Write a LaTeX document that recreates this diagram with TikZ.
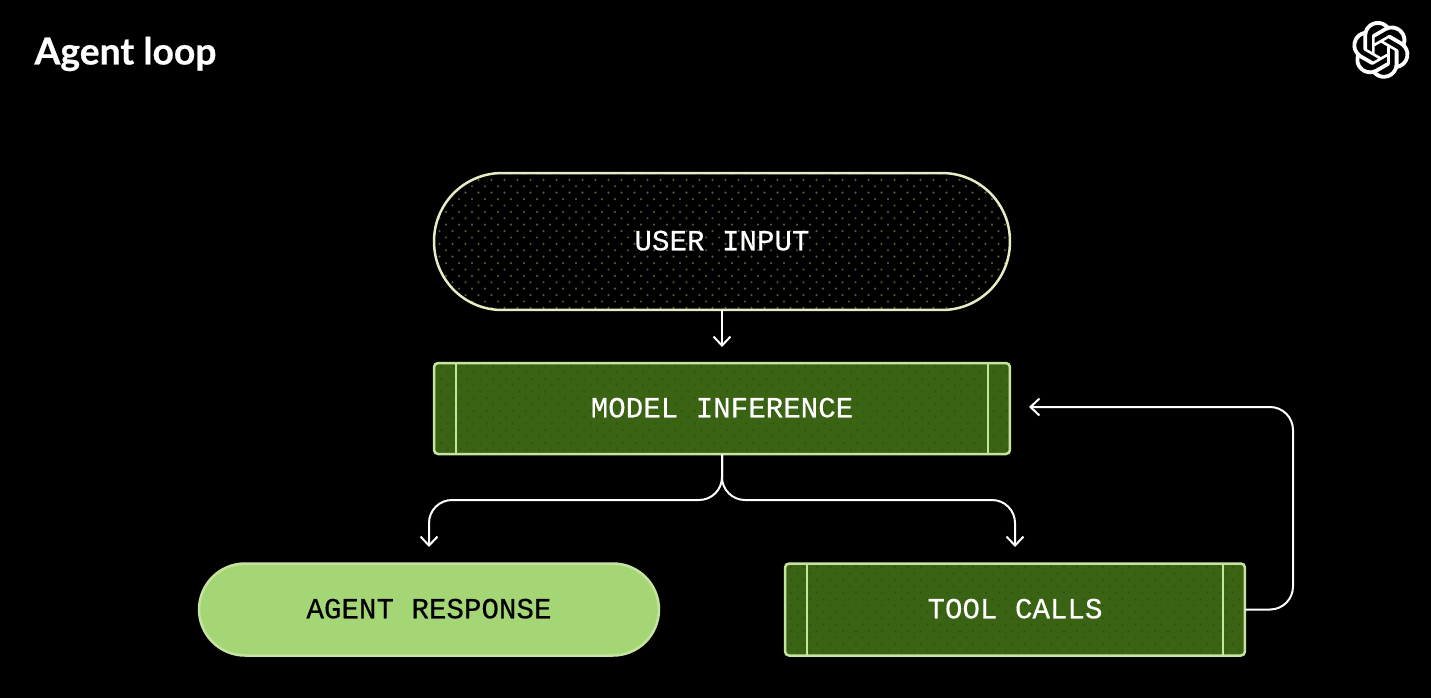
\documentclass[tikz,border=0pt]{standalone}
\usepackage{fontspec}
\setmainfont{Lato}[BoldFeatures={FakeBold=0.6}]
\setmonofont{Liberation Mono}[FakeBold=0.35,AutoFakeBold=0.35]
\usetikzlibrary{arrows.meta,svg.path}
\definecolor{leaf}{HTML}{3A6414}
\definecolor{leafdot}{HTML}{2F5610}
\definecolor{lime}{HTML}{A5D676}
\definecolor{limeline}{HTML}{C6E4A0}
\definecolor{paleline}{HTML}{E3EEC4}
\definecolor{inkdot}{HTML}{565C30}
\newcommand{\dotgrid}[1]{\foreach \i in {-25,...,35} \foreach \j in {-13,...,13}
  \fill[#1] ({(\i+0.5*mod(\j+13,2))*13},{\j*6.4}) circle (0.024cm);}
\tikzset{
  every node/.style={outer sep=0pt, inner sep=0pt},
  flow/.style={draw=white, line width=0.04cm, -{Straight Barb[length=0.18cm,width=0.34cm]}},
  label/.style={font=\ttfamily\fontsize{16.6pt}{20pt}\selectfont, text depth=0.04cm},
  stepbox/.style={draw=limeline, line width=0.05cm, fill=leaf, rounded corners=0.08cm, text=white, label,
    minimum height=1.82cm, path picture={\dotgrid{leafdot}}},
  barline/.style={draw=limeline, line width=0.05cm}
}
\begin{document}
\begin{tikzpicture}[x=0.02cm,y=-0.02cm]
  \fill[black] (0,0) rectangle (1431,698);
  \useasboundingbox (0,0) rectangle (1431,698);
  \node[text=white, font=\fontsize{21.2pt}{25pt}\selectfont\bfseries] (title) at (125.5,54) {Agent loop};
  % logo
  \begin{scope}[shift={(1352,21)}, xscale=1.37, yscale=-1.37]
    \fill[white] svg {M22.2819 9.8211 a5.9847 5.9847 0 0 0 -.5157 -4.9108 a6.0462 6.0462 0 0 0 -6.5098 -2.9 A6.0651 6.0651 0 0 0 4.9807 4.1818 a5.9847 5.9847 0 0 0 -3.9977 2.9 a6.0462 6.0462 0 0 0 .7427 7.0966 a5.98 5.98 0 0 0 .511 4.9107 a6.051 6.051 0 0 0 6.5146 2.9001 A5.9847 5.9847 0 0 0 13.2599 24 a6.0557 6.0557 0 0 0 5.7718 -4.2058 a5.9894 5.9894 0 0 0 3.9977 -2.9001 a6.0557 6.0557 0 0 0 -.7475 -7.0729 z
    M13.2599 22.4292 a4.4755 4.4755 0 0 1 -2.8764 -1.0408 l.1419 -.0804 l4.7783 -2.7582 a.7948 .7948 0 0 0 .3927 -.6813 v-6.7369 l2.02 1.1686 l.038 .052 v5.5826 a4.504 4.504 0 0 1 -4.4945 4.4944 z
    M3.5992 18.3038 a4.4708 4.4708 0 0 1 -.5346 -3.0137 l.142 .0852 l4.783 2.7582 a.7712 .7712 0 0 0 .7806 0 l5.8428 -3.3685 v2.3324 l-.0332 .0615 L9.74 19.9502 a4.4992 4.4992 0 0 1 -6.1408 -1.6464 z
    M2.3408 7.8956 a4.485 4.485 0 0 1 2.3655 -1.9728 V11.6 a.7664 .7664 0 0 0 .3879 .6765 l5.8144 3.3543 l-2.0201 1.1685 l-.071 0 l-4.8303 -2.7865 A4.504 4.504 0 0 1 2.3408 7.872 z
    M18.9371 11.7514 L13.1038 8.364 L15.1192 7.2 l.071 0 l4.8303 2.7913 a4.4944 4.4944 0 0 1 -.6765 8.1042 v-5.6772 a.79 .79 0 0 0 -.407 -.667 z
    M20.9478 8.7283 l-.142 -.0852 l-4.7735 -2.7818 a.7759 .7759 0 0 0 -.7854 0 L9.409 9.2297 V6.8974 l.0284 -.0615 l4.8303 -2.7866 a4.4992 4.4992 0 0 1 6.6802 4.66 z
    M8.3065 12.863 l-2.02 -1.1638 l-.038 -.0567 V6.0742 a4.4992 4.4992 0 0 1 7.3757 -3.4537 l-.142 .0805 L8.704 5.459 a.7948 .7948 0 0 0 -.3927 .6813 z
    M9.4041 10.4976 l2.602 -1.4998 l2.6069 1.4998 v2.9994 l-2.5974 1.4997 l-2.6067 -1.4997 Z};
  \end{scope}
  % boxes
  \node[draw=paleline, line width=0.05cm, fill=black, rounded corners=1.36cm, text=white, label,
    minimum width=11.52cm, minimum height=2.74cm, path picture={\dotgrid{inkdot}}] (input) at (722,241.5) {USER INPUT};
  \node[stepbox, minimum width=11.52cm] (model) at (722,408.5) {MODEL INFERENCE};
  \node[draw=limeline, line width=0.05cm, fill=lime, rounded corners=0.92cm, text=black, label,
    minimum width=9.2cm, minimum height=1.84cm] (response) at (429,609.5) {AGENT RESPONSE};
  \node[stepbox, minimum width=9.2cm, minimum height=1.84cm] (tools) at (1015,609.5) {TOOL CALLS};
  % side bars
  \draw[barline] ([xshift=0.44cm]model.north west) -- ([xshift=0.44cm]model.south west);
  \draw[barline] ([xshift=-0.44cm]model.north east) -- ([xshift=-0.44cm]model.south east);
  \draw[barline] ([xshift=0.44cm]tools.north west) -- ([xshift=0.44cm]tools.south west);
  \draw[barline] ([xshift=-0.44cm]tools.north east) -- ([xshift=-0.44cm]tools.south east);
  % arrows
  \coordinate (inputtip) at (722,347);
  \coordinate (fork) at (722,500);
  \coordinate (leftbend) at (429,500);
  \coordinate (lefttip) at (429,547);
  \coordinate (rightbend) at (1015,500);
  \coordinate (righttip) at (1015,547);
  \coordinate (loopbot) at (1293,609.5);
  \coordinate (looptop) at (1293,407);
  \coordinate (looptip) at (1029,407);
  \draw[flow] (input) -- (inputtip);
  \draw[flow, rounded corners=0.46cm] (model.south) -- (fork) -- (leftbend) -- (lefttip);
  \draw[flow, rounded corners=0.46cm] (model.south) -- (fork) -- (rightbend) -- (righttip);
  \draw[flow, rounded corners=0.46cm] (tools.east) -- (loopbot) -- (looptop) -- (looptip);
\end{tikzpicture}
\end{document}
